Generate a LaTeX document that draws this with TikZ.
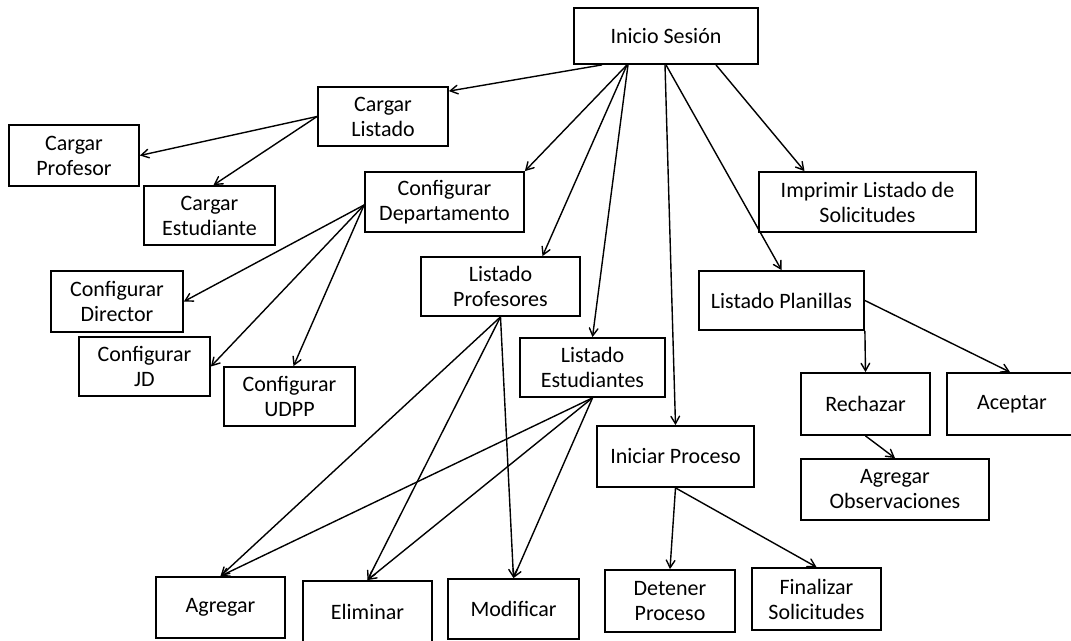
\documentclass[tikz,border=0pt]{standalone}
\usepackage{fontspec}
\setmainfont{Carlito}
\usepackage{tikz}
\usetikzlibrary{arrows}
\usetikzlibrary{calc}
\usetikzlibrary{positioning}

\tikzset{
  caja/.style={draw, line width=0.9pt, align=center, minimum height=29.5pt,
    inner sep=1pt, font=\fontsize{11}{12.5}\selectfont},
  flecha/.style={->, >=angle 60, line width=0.7pt}
}

\begin{document}
\begin{tikzpicture}[x=0.5pt,y=-0.5pt]
\useasboundingbox (0,0) rectangle (1071,641);
\begin{scope}[every node/.style={caja}]
\node[minimum width=92pt, minimum height=28pt] (inicio) at (666,36) {Inicio Sesión};
\node[minimum width=65pt] (cargarL) at (383,116.5) {Cargar\\Listado};
\node[minimum width=65pt, minimum height=30.5pt] (cargarP) at (74,155.5) {Cargar\\Profesor};
\node[minimum width=65.5pt] (cargarE) at (209.5,215.5) {Cargar\\Estudiante};
\node[minimum width=79.5pt, minimum height=30pt] (confDep) at (444.5,202) {Configurar\\Departamento};
\node[minimum width=108.5pt, minimum height=30pt] (imprimir) at (867.5,202) {Imprimir Listado de\\Solicitudes};
\node[minimum width=66pt, minimum height=30.5pt] (confDir) at (117,301.5) {Configurar\\Director};
\node[minimum width=79.5pt] (lprof) at (500.5,286.5) {Listado\\Profesores};
\node[minimum width=82.5pt] (lplan) at (781.5,300.5) {Listado Planillas};
\node[minimum width=65.5pt] (confJD) at (144.5,366.5) {Configurar\\JD};
\node[minimum width=72.5pt] (lest) at (592.5,367.5) {Listado\\Estudiantes};
\node[minimum width=65.5pt] (confUDPP) at (289.5,396.5) {Configurar\\UDPP};
\node[minimum width=64.5pt, minimum height=31pt] (rechazar) at (865.5,404) {Rechazar};
\node[minimum width=68pt, minimum height=31pt] (aceptar) at (1015,404) {\hspace*{-3pt}Aceptar};
\node[minimum width=78.5pt, minimum height=30.5pt] (iniciarP) at (675.5,456.5) {Iniciar Proceso};
\node[minimum width=94pt, minimum height=30.5pt] (agrObs) at (895,489.5) {Agregar\\Observaciones};
\node[minimum width=64.5pt, minimum height=30.5pt] (agregar) at (220.5,607.5) {Agregar};
\node[minimum width=64.5pt, minimum height=30.5pt] (eliminar) at (367.5,611.5) {Eliminar};
\node[minimum width=65.5pt, minimum height=30pt] (modificar) at (513.5,609) {Modificar};
\node[minimum width=65pt, minimum height=31pt] (detener) at (670,601) {Detener\\Proceso};
\node[minimum width=64.5pt, minimum height=31pt] (finalizar) at (816.5,599) {Finalizar\\Solicitudes};
\end{scope}
\begin{scope}[every path/.style={flecha}]
% desde inicio
\draw ($(inicio.south)+(-64,0)$) -- ($(cargarL.north east)+(0,5)$);
\draw ($(inicio.south)+(-39,0)$) -- (confDep.north east);
\draw ($(inicio.south)+(-39,0)$) -- ($(lprof.north)+(42,0)$);
\draw ($(inicio.south)+(-38,0)$) -- (lest.north);
\draw ($(inicio.south)+(-1,0)$) -- (iniciarP.north);
\draw (inicio.south) -- (lplan.north);
\draw ($(inicio.south)+(50,0)$) -- ($(imprimir.north)+(-63,0)$);
% cargar y configurar
\draw (cargarL.west) -- (cargarP.east);
\draw (cargarL.west) -- ($(cargarE.north)+(4,0)$);
\draw ($(confDep.west)+(0,3)$) -- (confDir.east);
\draw ($(confDep.west)+(0,3)$) -- (confJD.east);
\draw ($(confDep.west)+(0,3)$) -- ($(confUDPP.north)+(4,0)$);
% listados
\foreach \d in {agregar,eliminar,modificar}{
  \draw (lprof.south) -- (\d.north);
  \draw (lest.south) -- (\d.north);
}
\draw (lplan.east) -- ($(aceptar.north)+(-5,0)$);
\draw (lplan.south east) -- (rechazar.north);
\draw (rechazar.south) -- (agrObs.north);
\draw (iniciarP.south) -- (detener.north);
\draw (iniciarP.south) -- (finalizar.north);
\end{scope}
\end{tikzpicture}
\end{document}
